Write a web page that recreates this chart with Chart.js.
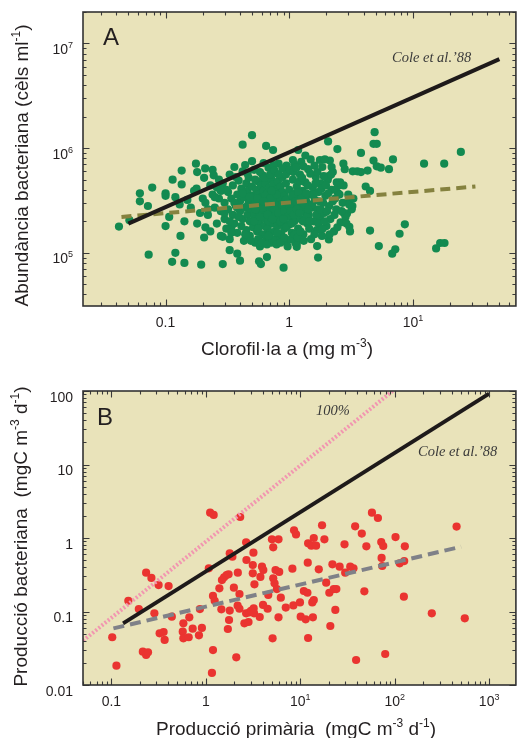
<!DOCTYPE html>
<html>
<head>
<meta charset="utf-8">
<script src="https://cdn.jsdelivr.net/npm/chart.js@4.4.1/dist/chart.umd.min.js"></script>
<style>
  html, body { margin: 0; padding: 0; background: #fff; }
  .panel { position: absolute; left: 0; }
</style>
</head>
<body>
<div class="panel" style="top:0"><canvas id="chartA" width="520" height="370"></canvas></div>
<div class="panel" style="top:370px"><canvas id="chartB" width="520" height="368"></canvas></div>
<script>
// ---- panel A: chlorophyll a (mg m-3) vs bacterial abundance (cells ml-1)
const chlA = [
  0.042,0.051,0.062,0.062,0.078,0.072,0.073,0.10,0.10,0.114,
  0.107,0.10,0.12,0.113,0.142,0.132,0.142,0.135,0.135,0.176,
  0.18,0.178,0.194,0.209,0.205,0.21,0.205,0.24,0.245,0.29,
  0.29,0.33,0.34,0.40,0.38,0.42,0.50,0.57,0.59,0.66,
  0.65,0.74,0.90,0.82,4.9,4.8,5.1,2.06,2.45,3.8,
  4.8,6.9,5.1,5.5,6.4,4.3,12.3,17.9,24.4,4.15,
  4.5,4.5,8.6,7.8,5.3,7.2,6.8,15.4,16.6,18,
  1.71,1.68,1.15,1.15,2.09,3.06,3.1,2.76,2.93,3.24,
  2.99,2.48,2.42,2.58,2.74,2.81,3.26,3.55,3.8,2.09,
  2.25,1.77,2.13,1.49,1.94,1.18,1.07,0.15,0.16,0.17,
  0.19,0.2,0.18,0.13,0.12,0.21,0.22,0.23,0.24,0.25,
  0.26,0.26,0.27,0.28,0.28,0.29,0.30,0.30,0.31,0.32,
  0.32,0.33,0.33,0.34,0.35,0.35,0.36,0.36,0.37,0.38,
  0.38,0.39,0.40,0.40,0.41,0.41,0.42,0.42,0.43,0.43,
  0.44,0.45,0.45,0.46,0.46,0.47,0.47,0.48,0.48,0.49,
  0.50,0.50,0.51,0.51,0.52,0.52,0.53,0.53,0.54,0.54,
  0.55,0.55,0.56,0.56,0.57,0.57,0.58,0.58,0.59,0.59,
  0.60,0.60,0.61,0.61,0.62,0.62,0.63,0.63,0.64,0.64,
  0.65,0.65,0.66,0.66,0.67,0.67,0.68,0.68,0.69,0.69,
  0.70,0.70,0.71,0.71,0.72,0.72,0.73,0.73,0.74,0.74,
  0.75,0.76,0.76,0.77,0.77,0.78,0.78,0.79,0.80,0.80,
  0.81,0.81,0.82,0.83,0.83,0.84,0.85,0.85,0.86,0.87,
  0.88,0.88,0.89,0.90,0.91,0.92,0.93,0.94,0.95,0.96,
  0.97,0.98,0.99,1.00,1.02,1.03,1.05,1.06,1.07,1.09,
  1.10,1.12,1.13,1.15,1.16,1.18,1.20,1.22,1.24,1.26,
  1.28,1.30,1.32,1.35,1.37,1.40,1.42,1.44,1.47,1.50,
  1.52,1.55,1.58,1.61,1.64,1.67,1.70,1.73,1.77,1.80,
  1.84,1.88,1.92,1.96,2.0,2.05,2.1,2.15,2.2,2.3,
  2.35,2.4,2.5,2.6,2.7,2.85,3.0,3.2,0.95,1.1,
  1.25,0.75,1.6,1.35,0.62,0.5,0.44,
  0.27,0.31,0.34,0.37,0.39,0.44,0.46,0.49,0.53,0.56,
  0.58,0.60,0.63,0.66,0.70,0.73,0.76,0.79,0.82,0.85,
  0.88,0.91,0.94,0.97,1.01,1.04,1.08,1.11,1.14,1.17,
  1.21,1.23,1.27,1.31,1.34,1.38,1.41,1.45,1.48,1.53,
  1.57,1.6,1.63,1.66,1.69,1.72,1.75,1.79,1.82,1.86,
  1.9,1.94,1.98,2.02,2.07,2.12,2.18,2.25,2.32,2.38,
  2.45,2.55,2.65,2.75,2.9,3.05,3.3,2.2,1.85,1.3,
  0.52,0.55,0.58,0.61,0.64,0.67,0.7,0.73,0.76,0.79,
  0.82,0.85,0.88,0.91,0.94,0.97,1.0,1.03,1.06,1.09,
  1.12,1.15,1.18,1.21,1.25,1.29,1.33,1.37,1.42,1.46,
  0.9,0.95,1.05,0.8,0.68,0.56,0.46,0.42,0.36,0.3,
  0.25,0.23,0.22,0.28,0.33,0.38,0.48,0.53,0.62,0.72
];
const bactA = [
  1.78e5,2.05e5,3.7e5,3.1e5,4.2e5,2.8e5,9.6e4,3.7e5,3.5e5,5.0e5,
  2.2e5,1.8e5,1.0e5,8.2e4,2.0e5,1.45e5,8.0e4,6.1e5,4.5e5,7.1e5,
  5.9e5,4.1e5,7.7e4,6.4e5,5.2e5,1.75e5,1.4e5,6.2e5,5.5e5,7.8e4,
  1.42e5,1.06e5,1.73e5,8.4e4,9.8e4,1.08e6,1.33e6,8.3e4,7.8e4,9.1e4,
  1.05e6,9.6e5,7.2e4,7.1e5,1.42e6,1.1e6,1.1e6,1.16e6,9.8e5,9.0e5,
  7.6e5,7.8e5,6.7e5,6.5e5,6.3e5,6.1e5,7.1e5,7.1e5,9.2e5,4.3e5,
  3.9e5,1.63e5,1.87e5,1.52e5,1.16e5,1.08e5,9.8e4,1.1e5,1.24e5,1.24e5,
  9.0e4,1.16e5,1.22e5,1.14e5,1.34e5,1.77e5,1.6e5,2.4e5,2.37e5,2.8e5,
  3.1e5,3.7e5,4.7e5,4.7e5,7.1e5,6.3e5,6.0e5,6.0e5,5.9e5,5.4e5,
  5.9e5,7.7e5,7.6e5,7.8e5,7.8e5,9.6e5,7.7e5,3.2e5,2.7e5,3.9e5,
  2.4e5,3.3e5,1.9e5,2.9e5,3.4e5,3.0e5,2.3e5,1.6e5,3.6e5,2.7e5,
  4.2e5,1.9e5,3.3e5,2.5e5,1.45e5,4.6e5,3.0e5,2.1e5,1.7e5,3.8e5,
  2.6e5,5.6e5,1.35e5,3.3e5,2.3e5,4.4e5,1.9e5,6.6e5,2.8e5,3.6e5,
  1.55e5,4.9e5,2.5e5,3.1e5,1.8e5,4.1e5,2.1e5,6.0e5,1.3e5,3.4e5,
  2.7e5,4.6e5,1.65e5,2.3e5,3.9e5,3.0e5,5.2e5,1.45e5,2.0e5,2.6e5,
  3.5e5,4.3e5,1.75e5,2.9e5,2.3e5,6.2e5,3.2e5,1.25e5,2.1e5,4.0e5,
  2.6e5,1.6e5,3.6e5,4.8e5,2.4e5,1.9e5,3.0e5,1.15e5,2.7e5,4.4e5,
  2.2e5,3.4e5,1.5e5,5.5e5,2.5e5,3.9e5,1.8e5,2.9e5,2.1e5,4.6e5,
  3.2e5,1.35e5,2.4e5,3.7e5,1.7e5,2.8e5,6.5e5,2.0e5,3.5e5,4.2e5,
  2.6e5,1.55e5,3.0e5,2.2e5,5.0e5,1.25e5,3.8e5,2.5e5,1.9e5,4.5e5,
  2.9e5,2.1e5,3.4e5,1.6e5,5.8e5,2.4e5,4.0e5,3.1e5,1.8e5,2.7e5,
  4.8e5,1.4e5,3.6e5,2.2e5,2.9e5,1.95e5,4.3e5,3.3e5,1.5e5,2.5e5,
  5.3e5,3.8e5,2.0e5,2.8e5,1.7e5,3.5e5,2.3e5,4.6e5,1.3e5,3.0e5,
  2.6e5,6.0e5,1.85e5,4.0e5,2.2e5,3.2e5,1.55e5,2.7e5,5.0e5,3.7e5,
  2.0e5,1.25e5,2.9e5,4.3e5,2.4e5,1.7e5,3.4e5,5.6e5,2.1e5,2.8e5,
  3.9e5,1.5e5,2.5e5,4.7e5,3.1e5,1.9e5,6.3e5,2.3e5,3.6e5,1.35e5,
  2.7e5,4.2e5,2.0e5,3.2e5,5.3e5,1.65e5,2.6e5,3.8e5,2.2e5,4.6e5,
  1.45e5,3.0e5,2.4e5,3.5e5,1.8e5,5.0e5,2.8e5,2.1e5,4.0e5,1.6e5,
  3.3e5,2.6e5,4.4e5,1.95e5,3.0e5,2.2e5,3.6e5,2.6e5,6.8e5,7.0e5,
  7.4e5,6.9e5,6.8e5,8.5e5,7.2e5,7.5e5,6.9e5,
  5.0e5,4.0e5,1.55e5,5.3e5,2.2e5,1.5e5,5.7e5,1.3e5,5.0e5,1.35e5,
  5.9e5,1.25e5,5.2e5,1.2e5,5.6e5,1.35e5,6.1e5,1.2e5,5.6e5,1.25e5,
  6.4e5,1.4e5,5.6e5,1.15e5,6.2e5,1.35e5,5.9e5,1.5e5,6.5e5,1.4e5,
  4.8e5,1.6e5,5.2e5,1.3e5,3.5e5,2.2e5,4.4e5,1.7e5,5.7e5,2.9e5,
  3.6e5,1.5e5,4.6e5,2.3e5,5.9e5,1.9e5,3.1e5,2.6e5,4.1e5,1.7e5,
  5.4e5,2.0e5,4.4e5,2.5e5,3.7e5,1.5e5,5.6e5,3.1e5,2.3e5,4.0e5,
  1.75e5,3.6e5,2.5e5,4.4e5,1.9e5,2.9e5,3.3e5,6.6e5,6.6e5,6.7e5,
  2.0e5,3.3e5,2.2e5,2.7e5,3.5e5,2.3e5,3.3e5,2.1e5,2.6e5,3.6e5,
  2.4e5,2.0e5,2.9e5,2.5e5,3.2e5,2.2e5,2.8e5,2.5e5,3.5e5,2.3e5,
  3.1e5,2.6e5,3.8e5,2.4e5,3.3e5,2.0e5,2.9e5,3.7e5,2.6e5,2.0e5,
  2.1e5,1.75e5,1.9e5,1.55e5,1.45e5,1.7e5,2.8e5,3.7e5,3.0e5,2.4e5,
  3.4e5,4.4e5,2.6e5,3.9e5,2.0e5,2.7e5,3.4e5,2.6e5,3.1e5,3.9e5
];
const coleAx = [0.05, 50];
const coleAy = [1.9e5, 7.1e6];
const fitAx = [0.044, 32];
const fitAy = [2.2e5, 4.3e5];

// ---- panel B: primary production vs bacterial production (mgC m-3 d-1)
const ppB = [
  0.102,0.113,0.151,0.195,0.233,0.265,0.215,0.233,0.244,0.285,
  0.316,0.324,0.357,0.366,0.403,0.436,0.569,0.578,0.578,0.658,
  0.668,0.725,0.845,0.908,0.865,1.075,1.11,1.21,1.19,1.24,
  1.19,1.16,1.39,1.48,1.56,1.66,1.74,1.46,1.71,1.76,
  1.79,1.79,1.91,1.98,2.10,2.18,2.17,2.27,2.27,2.31,
  2.67,2.69,2.56,2.83,2.67,2.90,3.01,3.21,3.24,3.14,
  3.19,3.14,3.27,3.72,3.78,3.93,4.06,4.03,4.51,4.58,
  5.01,5.17,5.09,5.17,5.34,5.47,5.98,5.65,5.88,5.88,
  6.22,7.02,8.25,8.45,8.59,9.01,9.93,10.1,11.4,10.9,
  11.9,12.0,12.1,12.1,13.1,13.4,13.9,13.6,13.9,14.7,
  15.7,17.0,18.0,18.8,20.3,20.8,21.9,22.6,24.1,23.5,
  26.1,29.4,29.9,33.8,36.6,38.1,39.0,44.8,47.7,50.1,
  57.4,66.4,72.0,75.6,72.6,73.8,79.3,102,113,126,
  128,125,247,452,552
];
const bpB = [
  0.0446,0.0183,0.140,0.108,0.337,0.286,0.0284,0.0256,0.0278,0.0944,
  0.229,0.0505,0.0526,0.041,0.222,0.085,0.0532,0.0431,0.069,0.0446,
  0.0833,0.0584,0.0474,0.0597,0.108,0.387,2.21,2.06,0.163,0.140,
  0.0299,0.0146,0.207,0.268,0.292,0.314,0.321,0.107,0.0578,0.0766,
  0.618,0.103,0.557,0.211,0.0238,0.337,0.12,0.109,0.173,1.93,
  0.873,0.502,0.069,0.072,0.0944,0.0975,0.102,0.110,0.0944,0.429,
  0.632,0.331,0.234,0.0842,0.295,0.407,0.367,0.123,0.109,0.168,
  0.96,0.746,0.0431,0.283,0.242,0.367,0.345,0.202,0.96,0.0833,
  0.154,0.113,0.383,0.121,1.27,1.12,0.133,0.085,0.0782,0.19,
  0.18,0.462,0.0436,0.846,0.787,0.133,0.143,0.0833,1.0,0.787,
  0.375,1.49,0.96,0.247,0.18,0.0635,0.438,0.202,0.202,0.105,
  0.407,0.82,0.337,0.407,0.387,1.44,0.0219,1.15,0.188,0.77,
  2.21,1.87,0.882,0.778,0.535,0.416,0.0264,1.03,0.452,0.486,
  0.77,0.159,0.0944,1.43,0.0807
];
const coleBx = [0.133, 1000];
const coleBy = [0.069, 92];
const fitBx = [0.105, 505];
const fitBy = [0.059, 0.76];
const pct100x = [0.05, 95];
const pct100y = [0.04, 100];

// ---- axis ticks and labels
const aXTicks = [0.1, 1, 10];
const aXLabels = ['0.1', '1', '10^{1}'];
const aYTicks = [1e5, 1e6, 1e7];
const aYLabels = ['10^{5}', '10^{6}', '10^{7}'];
const bXTicks = [0.1, 1, 10, 100, 1000];
const bXLabels = ['0.1', '1', '10^{1}', '10^{2}', '10^{3}'];
const bYTicks = [0.01, 0.1, 1, 10, 100];
const bYLabels = ['0.01', '0.1', '1', '10', '100'];

const TAN = '#e9e3ba';
const SANS = '"Liberation Sans", Arial, sans-serif';
const SERIF = '"Liberation Serif", "Times New Roman", serif';

// decorations per canvas (titles, tick labels, panel letter, notes)
const deco = {
  chartA: {
    xTicks: aXTicks, xLabels: aXLabels, yTicks: aYTicks, yLabels: aYLabels,
    xTitle: 'Clorofil·la a (mg m^{-3})', xTitlePos: [287, 355],
    yTitle: 'Abundància bacteriana (cèls ml^{-1})', yTitlePos: [28, 165.5],
    letter: ['A', 103, 45],
    notes: [['Cole et al.’88', 392, 62]]
  },
  chartB: {
    xTicks: bXTicks, xLabels: bXLabels, yTicks: bYTicks, yLabels: bYLabels,
    xTitle: 'Producció primària  (mgC m^{-3} d^{-1})', xTitlePos: [296, 365],
    yTitle: 'Producció bacteriana  (mgC m^{-3} d^{-1})', yTitlePos: [27, 166.5],
    letter: ['B', 97, 55],
    notes: [['100%', 316, 45], ['Cole et al.’88', 418, 86]]
  }
};

function splitSup(s) {
  const out = [];
  const re = /\^\{([^}]*)\}/g;
  let last = 0, m;
  while ((m = re.exec(s))) {
    if (m.index > last) out.push({ t: s.slice(last, m.index), sup: false });
    out.push({ t: m[1], sup: true });
    last = re.lastIndex;
  }
  if (last < s.length) out.push({ t: s.slice(last), sup: false });
  return out;
}

function drawRich(ctx, str, x, y, size, align) {
  const parts = splitSup(str);
  const base = size + 'px ' + SANS;
  const small = Math.round(size * 0.62) + 'px ' + SANS;
  let w = 0;
  parts.forEach(p => { ctx.font = p.sup ? small : base; p.w = ctx.measureText(p.t).width; w += p.w; });
  let cx = align === 'center' ? x - w / 2 : align === 'right' ? x - w : x;
  ctx.textAlign = 'left';
  ctx.textBaseline = 'alphabetic';
  parts.forEach(p => {
    ctx.font = p.sup ? small : base;
    ctx.fillText(p.t, cx, p.sup ? y - size * 0.42 : y);
    cx += p.w;
  });
}

function logMarks(scale) {
  const marks = [];
  const lo = Math.floor(Math.log10(scale.min));
  const hi = Math.ceil(Math.log10(scale.max));
  for (let e = lo; e <= hi; e++) {
    for (let k = 1; k <= 9; k++) {
      const v = k * Math.pow(10, e);
      if (v >= scale.min && v <= scale.max) marks.push({ v: v, major: k === 1 });
    }
  }
  return marks;
}

const panelDeco = {
  id: 'panelDeco',
  beforeDatasetsDraw(chart) {
    const { ctx, chartArea: a } = chart;
    ctx.save();
    ctx.fillStyle = TAN;
    ctx.fillRect(a.left, a.top, a.width, a.height);
    ctx.restore();
  },
  afterDraw(chart) {
    const d = deco[chart.canvas.id];
    const { ctx, chartArea: a } = chart;
    const xs = chart.scales.x, ys = chart.scales.y;
    ctx.save();

    // inward ticks on all four sides
    ctx.strokeStyle = '#3a3a3a';
    ctx.lineWidth = 1.1;
    ctx.beginPath();
    logMarks(xs).forEach(m => {
      const px = Math.round(xs.getPixelForValue(m.v)) + 0.5;
      const len = m.major ? 6.5 : 3.5;
      ctx.moveTo(px, a.bottom); ctx.lineTo(px, a.bottom - len);
      ctx.moveTo(px, a.top); ctx.lineTo(px, a.top + len);
    });
    logMarks(ys).forEach(m => {
      const py = Math.round(ys.getPixelForValue(m.v)) + 0.5;
      const len = m.major ? 6.5 : 3.5;
      ctx.moveTo(a.left, py); ctx.lineTo(a.left + len, py);
      ctx.moveTo(a.right, py); ctx.lineTo(a.right - len, py);
    });
    ctx.stroke();

    // frame
    ctx.lineWidth = 1.6;
    ctx.strokeStyle = '#333';
    ctx.strokeRect(a.left, a.top, a.width, a.height);

    // tick labels
    ctx.fillStyle = '#231f20';
    d.xTicks.forEach((v, i) => drawRich(ctx, d.xLabels[i], xs.getPixelForValue(v), a.bottom + 21, 14, 'center'));
    d.yTicks.forEach((v, i) => drawRich(ctx, d.yLabels[i], 73, ys.getPixelForValue(v) + 10.5, 14, 'right'));

    // axis titles
    drawRich(ctx, d.xTitle, d.xTitlePos[0], d.xTitlePos[1], 19, 'center');
    ctx.save();
    ctx.translate(d.yTitlePos[0], d.yTitlePos[1]);
    ctx.rotate(-Math.PI / 2);
    drawRich(ctx, d.yTitle, 0, 0, 19, 'center');
    ctx.restore();

    // panel letter
    ctx.font = '24px ' + SANS;
    ctx.textAlign = 'left';
    ctx.fillText(d.letter[0], d.letter[1], d.letter[2]);

    // italic notes
    ctx.fillStyle = '#3a3a3a';
    ctx.font = 'italic 14.5px ' + SERIF;
    d.notes.forEach(n => ctx.fillText(n[0], n[1], n[2]));
    ctx.restore();
  }
};

function xy(xs, ys) { return xs.map((v, i) => ({ x: v, y: ys[i] })); }

function lineSet(xs, ys, color, dash) {
  return {
    data: xy(xs, ys), showLine: true, borderColor: color, borderWidth: 4,
    borderDash: dash, borderCapStyle: 'butt', pointRadius: 0, fill: false, clip: 0, order: 0
  };
}

function pointSet(xs, ys, color) {
  return {
    data: xy(xs, ys), showLine: false, pointRadius: 4.1, pointBorderWidth: 0,
    backgroundColor: color, borderColor: color, order: 1
  };
}

function logAxis(min, max, fit) {
  return {
    type: 'logarithmic', min: min, max: max,
    ticks: { display: false }, grid: { display: false }, border: { display: false },
    afterFit: fit
  };
}

function makeChart(id, datasets, xr, yr, padTop, xAxisH) {
  return new Chart(document.getElementById(id), {
    type: 'scatter',
    data: { datasets: datasets },
    plugins: [panelDeco],
    options: {
      responsive: false,
      animation: false,
      events: [],
      layout: { padding: { top: padTop, right: 1, left: 0, bottom: 0 } },
      plugins: { legend: { display: false }, tooltip: { enabled: false } },
      scales: {
        x: logAxis(xr[0], xr[1], s => { s.height = xAxisH; }),
        y: logAxis(yr[0], yr[1], s => { s.width = 83; })
      }
    }
  });
}

makeChart('chartA', [
  lineSet(coleAx, coleAy, '#1e1a1a', []),
  lineSet(fitAx, fitAy, '#85823f', [10, 6]),
  pointSet(chlA, bactA, '#138a50')
], [0.0215, 68], [3.1e4, 2.0e7], 12, 64);

makeChart('chartB', [
  lineSet(coleBx, coleBy, '#1e1a1a', []),
  lineSet(fitBx, fitBy, '#7f8188', [11, 6]),
  lineSet(pct100x, pct100y, '#f296b0', [2, 2]),
  pointSet(ppB, bpB, '#ea3430')
], [0.05, 1920], [0.01, 100], 21, 53);
</script>
</body>
</html>
